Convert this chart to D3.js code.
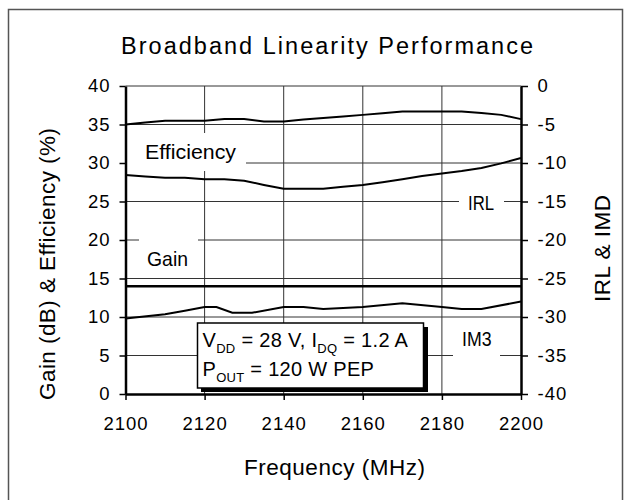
<!DOCTYPE html>
<html lang="en">
<head>
  <meta charset="UTF-8">
  <title>Broadband Linearity Performance</title>
  <style>
    body {
      margin: 0;
      padding: 0;
      background: #fff;
    }

    svg {
      display: block;
      font-family: "Liberation Sans", Arial, sans-serif;
    }

    .tick text {
      font-size: 18.5px;
      letter-spacing: 1px;
      fill: #000;
    }
  </style>
</head>
<body>
  <svg id="chart" width="631" height="500"></svg>
  <script src="https://d3js.org/d3.v7.min.js"></script>
  <script>
    // Frequency points (MHz)
    const freq = [2100, 2105, 2110, 2115, 2120, 2125, 2130, 2135, 2140, 2145, 2150,
                  2155, 2160, 2165, 2170, 2175, 2180, 2185, 2190, 2195, 2200];

    // Efficiency (%), left axis
    const efficiency = [35.0, 35.25, 35.5, 35.5, 35.5, 35.7, 35.7, 35.4, 35.4, 35.65, 35.85,
                        36.05, 36.25, 36.45, 36.7, 36.7, 36.7, 36.7, 36.5, 36.25, 35.7];

    // Gain (dB), left axis
    const gain = [14.0, 14.0, 14.0, 14.0, 14.0, 14.0, 14.0, 14.0, 14.0, 14.0, 14.0,
                  14.0, 14.0, 14.0, 14.0, 14.0, 14.0, 14.0, 14.0, 14.0, 14.0];

    // IRL (dB), right axis
    const irl = [-11.55, -11.75, -11.9, -11.9, -12.1, -12.1, -12.3, -12.85, -13.35, -13.35, -13.35,
                 -13.1, -12.85, -12.5, -12.1, -11.7, -11.35, -11.05, -10.65, -10.05, -9.35];

    // IM3 (dBc), right axis
    const imdFreq = [2100, 2110, 2115, 2120, 2123, 2127, 2132, 2140, 2145, 2150, 2160,
                     2170, 2180, 2185, 2190, 2200];
    const imd = [-30.2, -29.65, -29.2, -28.7, -28.7, -29.45, -29.45, -28.7, -28.7, -28.95, -28.7,
                 -28.2, -28.7, -28.95, -28.95, -28.0];

    const leftTicks = [0, 5, 10, 15, 20, 25, 30, 35, 40];
    const rightTicks = [-40, -35, -30, -25, -20, -15, -10, -5, 0];
    const freqTicks = [2100, 2120, 2140, 2160, 2180, 2200];

    const svg = d3.select('#chart');

    const x = d3.scaleLinear().domain([2100, 2200]).range([125.5, 521]);
    const yLeft = d3.scaleLinear().domain([0, 40]).range([394, 86]);
    const yRight = d3.scaleLinear().domain([-40, 0]).range([394, 86]);

    // Outer frame
    svg.append('rect')
      .attr('x', 8.5)
      .attr('y', 9.5)
      .attr('width', 614)
      .attr('height', 520)
      .attr('fill', 'none')
      .attr('stroke', '#555')
      .attr('stroke-width', 1.5);

    // Gridlines
    svg.append('g')
      .selectAll('line')
      .data(leftTicks.filter(d => d > 0))
      .enter()
      .append('line')
      .attr('x1', x(2100))
      .attr('x2', x(2200))
      .attr('y1', d => yLeft(d))
      .attr('y2', d => yLeft(d))
      .attr('stroke', '#333')
      .attr('stroke-width', 1);

    svg.append('g')
      .selectAll('line')
      .data(freqTicks.slice(1, -1))
      .enter()
      .append('line')
      .attr('x1', d => x(d))
      .attr('x2', d => x(d))
      .attr('y1', yLeft(40))
      .attr('y2', yLeft(0))
      .attr('stroke', '#333')
      .attr('stroke-width', 1);

    // Series labels on white patches
    function label(text, bx, by, bw, bh, tx, ty, len) {
      svg.append('rect')
        .attr('x', bx).attr('y', by)
        .attr('width', bw).attr('height', bh)
        .attr('fill', '#fff');
      svg.append('text')
        .attr('x', tx)
        .attr('y', ty)
        .attr('textLength', len)
        .attr('lengthAdjust', 'spacingAndGlyphs')
        .style('font-size', '21px')
        .text(text);
    }
    label('Efficiency', 127, 133, 119, 38, 145, 158.5, 91);
    label('Gain', 139, 234, 59, 40, 147, 265.5, 41);
    label('IRL', 459, 190, 45, 26, 468, 209.5, 26);
    label('IM3', 453, 322, 47, 40, 462, 346, 29.5);

    // Lines
    const lineLeft = d3.line().x((d, i) => x(freq[i])).y(d => yLeft(d));
    const lineRight = d3.line().x((d, i) => x(freq[i])).y(d => yRight(d));
    const lineImd = d3.line().x((d, i) => x(imdFreq[i])).y(d => yRight(d));

    svg.append('path').datum(efficiency).attr('d', lineLeft)
      .attr('fill', 'none').attr('stroke', '#000').attr('stroke-width', 2);
    svg.append('path').datum(irl).attr('d', lineRight)
      .attr('fill', 'none').attr('stroke', '#000').attr('stroke-width', 2);
    svg.append('path').datum(gain).attr('d', lineLeft)
      .attr('fill', 'none').attr('stroke', '#000').attr('stroke-width', 2.5);
    svg.append('path').datum(imd).attr('d', lineImd)
      .attr('fill', 'none').attr('stroke', '#000').attr('stroke-width', 2);

    // Axes (plain hyphen for negatives, as in the original)
    const plain = d => String(d);

    const axisL = svg.append('g')
      .attr('transform', `translate(${x(2100)},0)`)
      .call(d3.axisLeft(yLeft).tickValues(leftTicks).tickFormat(plain)
        .tickSize(6).tickSizeOuter(0).tickPadding(9));

    const axisR = svg.append('g')
      .attr('transform', `translate(${x(2200)},0)`)
      .call(d3.axisRight(yRight).tickValues(rightTicks).tickFormat(plain)
        .tickSize(7).tickSizeOuter(0).tickPadding(9.5));

    const axisB = svg.append('g')
      .attr('transform', `translate(0,${yLeft(0)})`)
      .call(d3.axisBottom(x).tickValues(freqTicks).tickFormat(plain)
        .tickSize(6).tickSizeOuter(0).tickPadding(16.5));

    [axisL, axisR, axisB].forEach(g => {
      g.select('.domain').attr('stroke', '#000').attr('stroke-width', 2.5);
      g.selectAll('.tick line').attr('stroke', '#000').attr('stroke-width', 1.5);
      g.selectAll('.tick text').style('font-family', '"Liberation Sans", Arial, sans-serif');
    });

    // Condition box with shadow
    svg.append('rect')
      .attr('x', 201).attr('y', 327)
      .attr('width', 227).attr('height', 65)
      .attr('fill', '#000');
    svg.append('rect')
      .attr('x', 197.5).attr('y', 323)
      .attr('width', 226).attr('height', 65)
      .attr('fill', '#fff')
      .attr('stroke', '#000')
      .attr('stroke-width', 1.5);

    const line1 = svg.append('text')
      .attr('x', 202.5)
      .attr('y', 346.5)
      .style('font-size', '20px')
      .style('letter-spacing', '0.3px');
    line1.append('tspan').text('V');
    line1.append('tspan').attr('dy', 6).style('font-size', '13px').text('DD');
    line1.append('tspan').attr('dy', -6).text(' = 28 V, I');
    line1.append('tspan').attr('dy', 6).style('font-size', '13px').text('DQ');
    line1.append('tspan').attr('dy', -6).text(' = 1.2 A');

    const line2 = svg.append('text')
      .attr('x', 202.5)
      .attr('y', 375.5)
      .style('font-size', '20px')
      .style('letter-spacing', '0.3px');
    line2.append('tspan').text('P');
    line2.append('tspan').attr('dy', 6).style('font-size', '13px').text('OUT');
    line2.append('tspan').attr('dy', -6).text(' = 120 W PEP');

    // Title
    svg.append('text')
      .attr('x', 121)
      .attr('y', 54)
      .attr('textLength', 412)
      .attr('lengthAdjust', 'spacing')
      .style('font-size', '23.5px')
      .text('Broadband Linearity Performance');

    // X-axis title
    svg.append('text')
      .attr('x', 244)
      .attr('y', 475)
      .attr('textLength', 181)
      .attr('lengthAdjust', 'spacing')
      .style('font-size', '22.5px')
      .text('Frequency (MHz)');

    // Y-axis titles
    svg.append('text')
      .attr('transform', 'translate(55,400) rotate(-90)')
      .attr('textLength', 272)
      .attr('lengthAdjust', 'spacing')
      .style('font-size', '22.5px')
      .text('Gain (dB) & Efficiency (%)');

    svg.append('text')
      .attr('transform', 'translate(610,302) rotate(-90)')
      .attr('textLength', 107)
      .attr('lengthAdjust', 'spacing')
      .style('font-size', '22.5px')
      .text('IRL & IMD');
  </script>
</body>
</html>
